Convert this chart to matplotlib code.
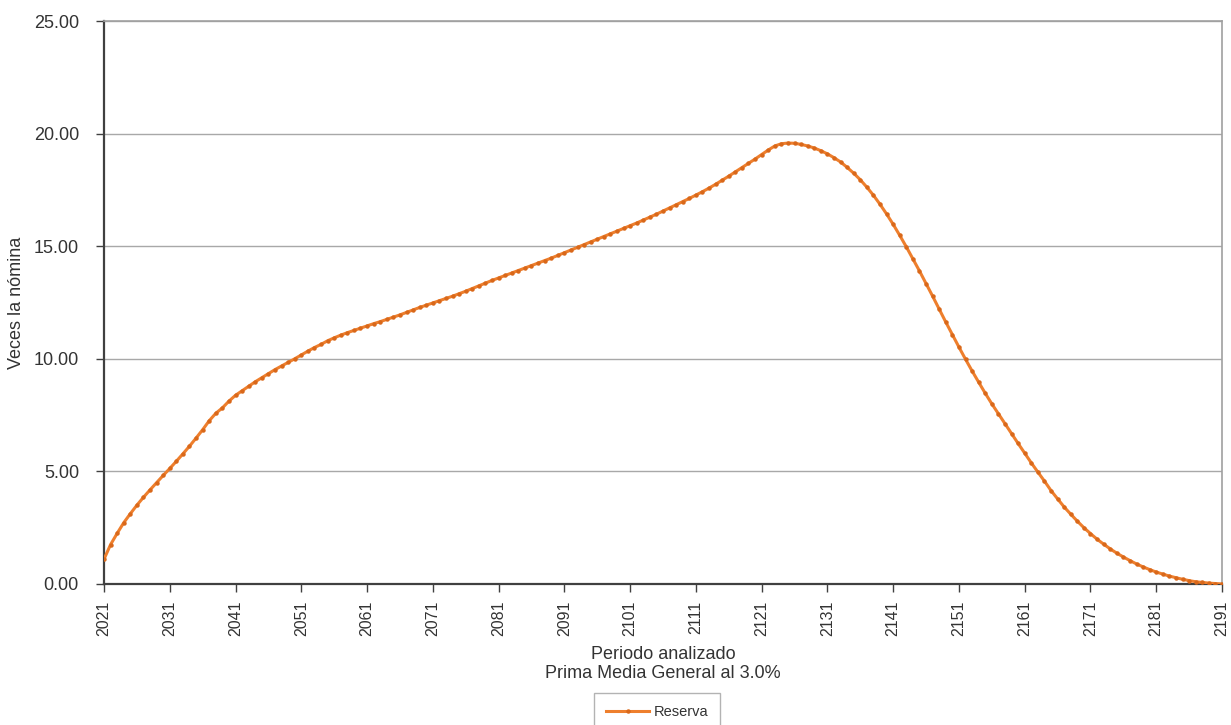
import numpy as np
import matplotlib
matplotlib.use("Agg")
import matplotlib.pyplot as plt

plt.rcParams['font.family'] = ['Liberation Sans', 'DejaVu Sans']

# datos: reserva en veces la nomina, 2021-2191
anios = list(range(2021, 2192))
reserva = [
    1.10, 1.75, 2.25, 2.72, 3.12, 3.50, 3.85, 4.18, 4.50, 4.82,
    5.13, 5.45, 5.78, 6.12, 6.48, 6.85, 7.25, 7.58, 7.82, 8.12,
    8.38, 8.58, 8.78, 8.98, 9.16, 9.34, 9.52, 9.68, 9.84, 10.00,
    10.17, 10.34, 10.50, 10.64, 10.80, 10.93, 11.05, 11.16, 11.26, 11.36,
    11.46, 11.56, 11.65, 11.75, 11.85, 11.95, 12.06, 12.17, 12.28, 12.38,
    12.48, 12.58, 12.68, 12.78, 12.89, 13.00, 13.12, 13.24, 13.36, 13.48,
    13.59, 13.70, 13.81, 13.92, 14.03, 14.14, 14.25, 14.36, 14.47, 14.59,
    14.71, 14.83, 14.95, 15.07, 15.19, 15.31, 15.43, 15.55, 15.67, 15.79,
    15.91, 16.03, 16.16, 16.29, 16.42, 16.56, 16.70, 16.84, 16.98, 17.12,
    17.27, 17.42, 17.58, 17.75, 17.93, 18.11, 18.30, 18.49, 18.68, 18.87,
    19.07, 19.27, 19.45, 19.55, 19.58, 19.57, 19.52, 19.45, 19.36, 19.24,
    19.10, 18.93, 18.74, 18.50, 18.24, 17.95, 17.62, 17.26, 16.86, 16.43,
    15.97, 15.48, 14.97, 14.44, 13.90, 13.34, 12.78, 12.20, 11.63, 11.07,
    10.52, 9.98, 9.46, 8.96, 8.47, 8.00, 7.56, 7.12, 6.68, 6.24,
    5.81, 5.38, 4.97, 4.57, 4.15, 3.78, 3.42, 3.10, 2.79, 2.50,
    2.24, 1.99, 1.77, 1.56, 1.37, 1.20, 1.04, 0.89, 0.76, 0.64,
    0.53, 0.44, 0.35, 0.28, 0.21, 0.15, 0.10, 0.07, 0.04, 0.02,
    0.00,
]
xticks = list(range(2021, 2192, 10))
yticks = [0, 5, 10, 15, 20, 25]

txt = '#333333'

fig = plt.figure(figsize=(12.31, 7.25), dpi=100)
ax = fig.add_axes([104/1231, 1-584/725, (1222-104)/1231, (584-21)/725])

ax.plot(anios, reserva, color='#EE7F2D', lw=2.2, marker='o', ms=2.2,
        mfc='#D9681A', mec='#D9681A', label='Reserva', zorder=3)

ax.set_xlim(2021, 2191)
ax.set_ylim(0, 25)
ax.set_xticks(xticks)
ax.set_xticklabels([str(t) for t in xticks], rotation=90, fontsize=11.5, color=txt)
ax.set_yticks(yticks)
ax.set_yticklabels(['%.2f' % v for v in yticks], fontsize=13, color=txt)
ax.yaxis.grid(True, color='#A8A8A8', lw=1)
ax.set_axisbelow(True)

for s in ['top', 'right']:
    ax.spines[s].set_color('#A0A0A0')
    ax.spines[s].set_linewidth(1.2)
for s in ['left', 'bottom']:
    ax.spines[s].set_color('#404040')
    ax.spines[s].set_linewidth(1.6)
ax.tick_params(axis='both', direction='out', length=6, width=1, color='#404040')
ax.tick_params(axis='y', pad=12)
ax.tick_params(axis='x', pad=6)

ax.set_ylabel('Veces la nómina', fontsize=13, color=txt, labelpad=6)
ax.set_xlabel('Periodo analizado\nPrima Media General al 3.0%', fontsize=13,
              color=txt, labelpad=7, linespacing=1.2)

leg = fig.legend(loc='upper center', bbox_to_anchor=(657/1231, 1-693/725),
                 fontsize=10.5, frameon=True, fancybox=False, handlelength=3.0,
                 handletextpad=0.3, borderpad=0.8, borderaxespad=0)
leg.get_frame().set_edgecolor('#A0A0A0')
leg.get_frame().set_linewidth(1)
for t in leg.get_texts():
    t.set_color(txt)

fig.savefig('out.png', dpi=100)
